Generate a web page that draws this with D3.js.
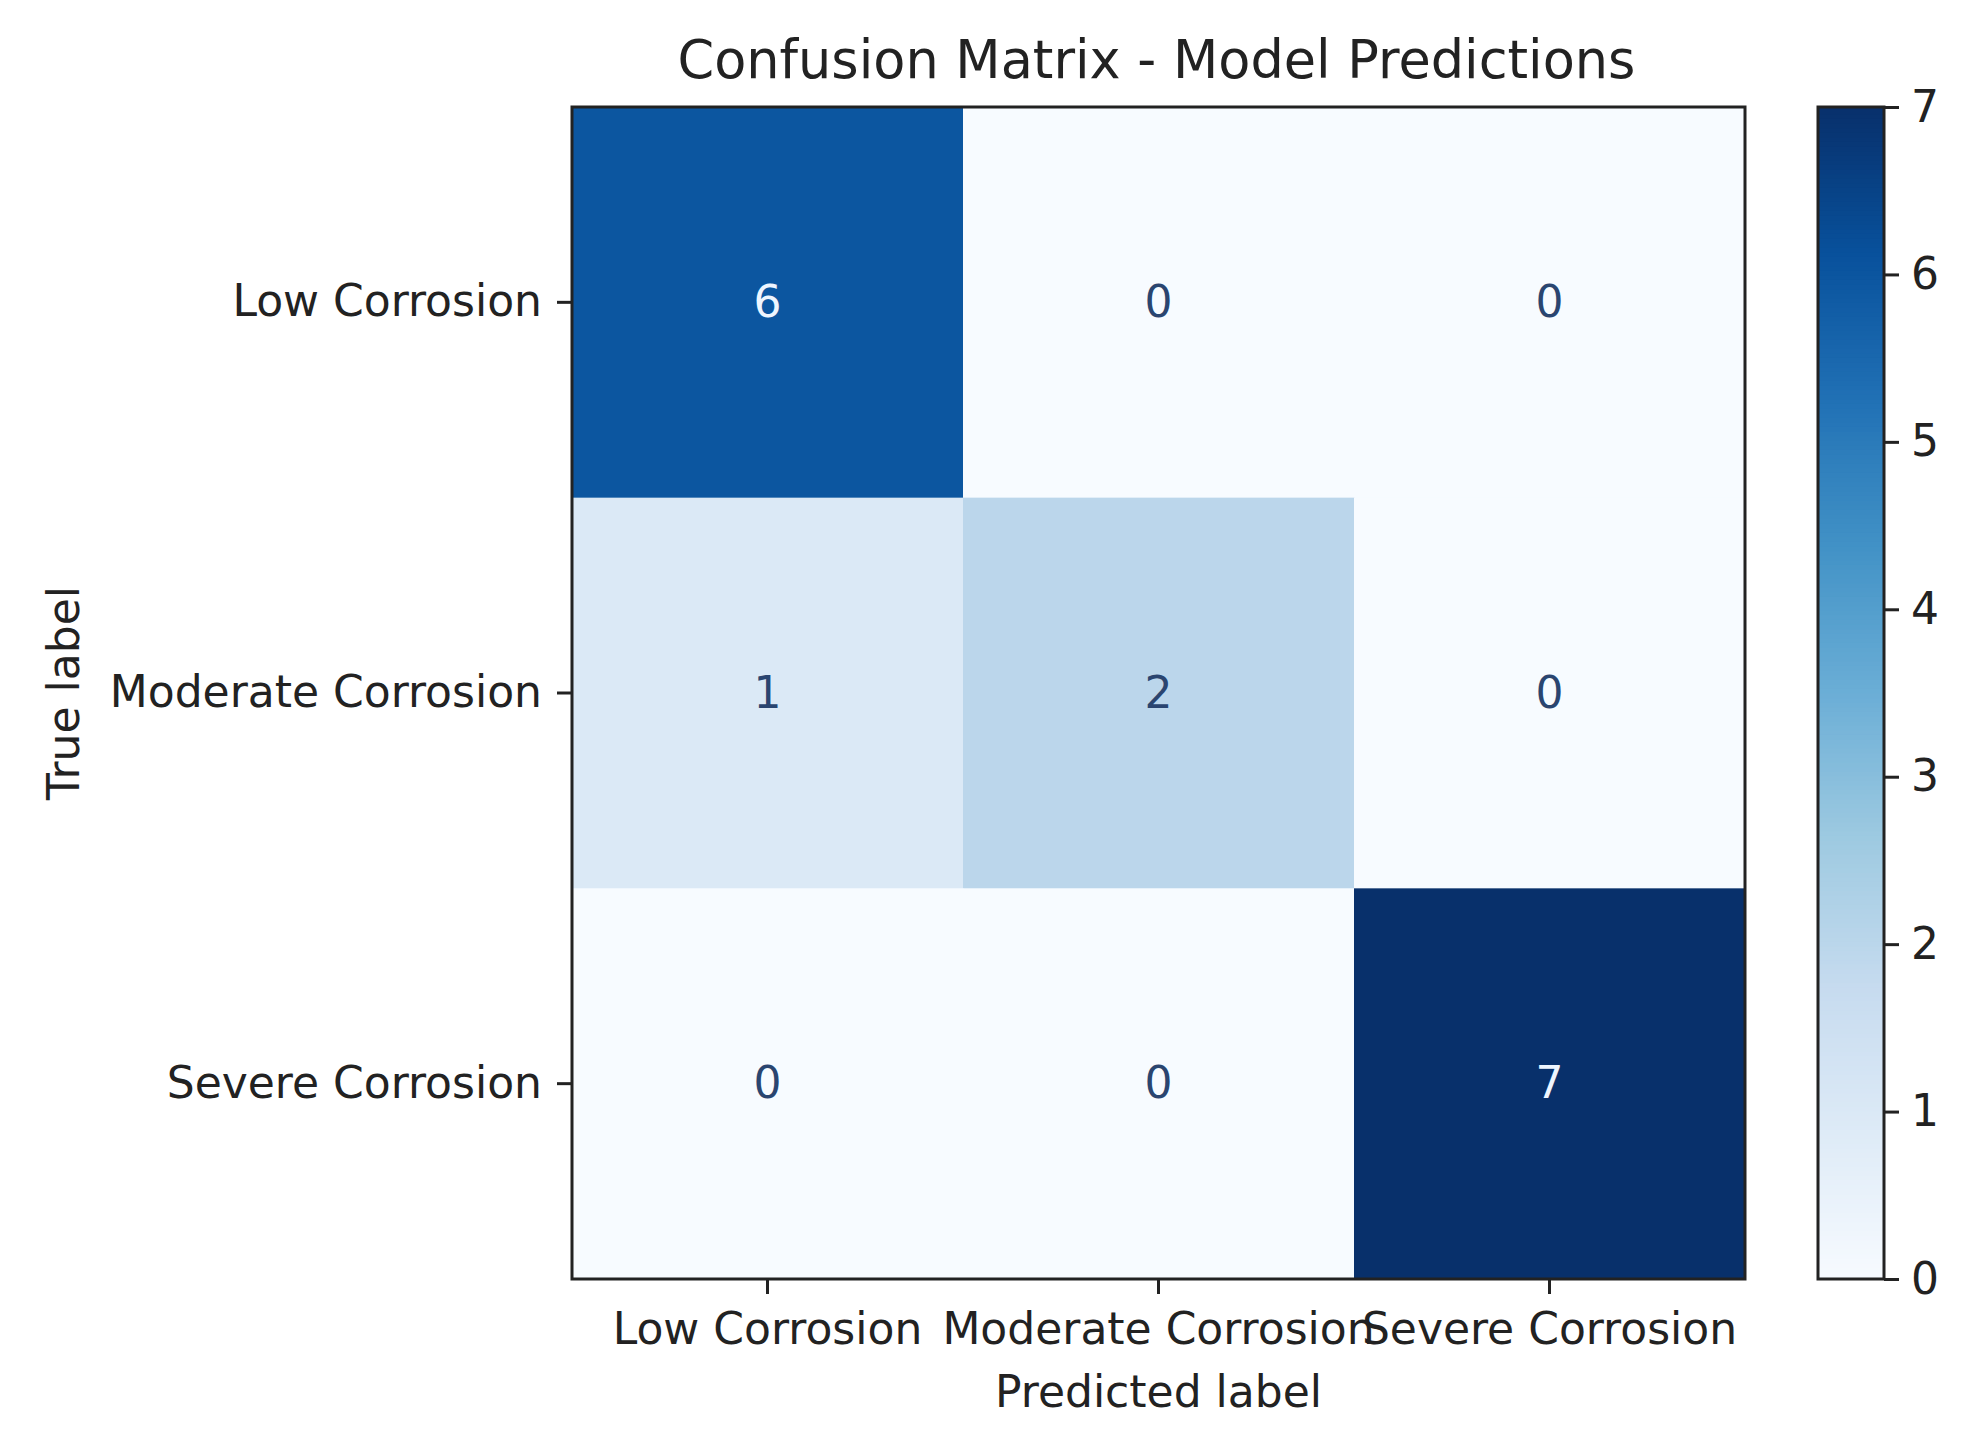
<!DOCTYPE html>
<html>
<head>
<meta charset="utf-8">
<script src="https://cdn.jsdelivr.net/npm/d3@7"></script>
<style>
  html, body { margin: 0; padding: 0; background: #ffffff; }
  svg { display: block; }
  text { font-family: "DejaVu Sans", sans-serif; }
</style>
</head>
<body>
<svg id="chart" width="1975" height="1451"></svg>
<script>
// ---- data ----
const classes = ["Low Corrosion", "Moderate Corrosion", "Severe Corrosion"];
const trueRowLow = [6, 0, 0];
const trueRowModerate = [1, 2, 0];
const trueRowSevere = [0, 0, 7];
const colorbarTicks = [0, 1, 2, 3, 4, 5, 6, 7];
const titleText = "Confusion Matrix - Model Predictions";
const xLabelText = "Predicted label";
const yLabelText = "True label";
const bluesStops = ["#f7fbff", "#deebf7", "#c6dbef", "#9ecae1", "#6baed6", "#4292c6", "#2171b5", "#08519c", "#08306b"];

const matrix = [trueRowLow, trueRowModerate, trueRowSevere];
const cells = [];
matrix.forEach((row, i) => row.forEach((v, j) => cells.push({ t: classes[i], p: classes[j], v })));

// ---- layout ----
const svg = d3.select("#chart");
const fs = 44;
const plot = { left: 572, top: 107, right: 1745, bottom: 1279 };
const cbar = { left: 1818, right: 1884, top: 107, bottom: 1279 };

const vmin = 0, vmax = 7;
const color = d3.scaleLinear()
  .domain(bluesStops.map((_, k) => vmin + (vmax - vmin) * k / (bluesStops.length - 1)))
  .range(bluesStops)
  .interpolate(d3.interpolateRgb);

const x = d3.scaleBand().domain(classes).range([plot.left, plot.right]);
const y = d3.scaleBand().domain(classes).range([plot.top, plot.bottom]);

// cells
svg.append("g").selectAll("rect").data(cells).join("rect")
  .attr("x", d => x(d.p))
  .attr("y", d => y(d.t))
  .attr("width", x.bandwidth() + 0.5)
  .attr("height", y.bandwidth() + 0.5)
  .attr("fill", d => color(d.v));

const thresh = (vmax + vmin) / 2;
svg.append("g").selectAll("text").data(cells).join("text")
  .attr("x", d => x(d.p) + x.bandwidth() / 2)
  .attr("y", d => y(d.t) + y.bandwidth() / 2)
  .attr("text-anchor", "middle")
  .attr("dy", "0.33em")
  .attr("font-size", fs)
  .attr("fill", d => d.v < thresh ? "#2a4570" : "#eef5ff")
  .text(d => d.v);

// frame
svg.append("rect")
  .attr("x", plot.left).attr("y", plot.top)
  .attr("width", plot.right - plot.left).attr("height", plot.bottom - plot.top)
  .attr("fill", "none").attr("stroke", "#222").attr("stroke-width", 3);

// x axis
const xAxis = d3.axisBottom(x).tickSize(15).tickPadding(19);
const gx = svg.append("g").attr("transform", `translate(0,${plot.bottom})`).call(xAxis);
gx.select(".domain").remove();
gx.selectAll(".tick line").attr("stroke", "#222").attr("stroke-width", 3);
gx.selectAll(".tick text").attr("font-size", fs).attr("fill", "#222")
  .attr("font-family", "DejaVu Sans, sans-serif");

// y axis
const yAxis = d3.axisLeft(y).tickSize(15).tickPadding(15);
const gy = svg.append("g").attr("transform", `translate(${plot.left},0)`).call(yAxis);
gy.select(".domain").remove();
gy.selectAll(".tick line").attr("stroke", "#222").attr("stroke-width", 3);
gy.selectAll(".tick text").attr("font-size", fs).attr("fill", "#222")
  .attr("font-family", "DejaVu Sans, sans-serif");

// title and labels
svg.append("text")
  .attr("x", (plot.left + plot.right) / 2 - 2).attr("y", 78)
  .attr("text-anchor", "middle").attr("font-size", 52.5).attr("fill", "#222")
  .text(titleText);

svg.append("text")
  .attr("x", (plot.left + plot.right) / 2).attr("y", 1407)
  .attr("text-anchor", "middle").attr("font-size", fs).attr("fill", "#222")
  .text(xLabelText);

svg.append("text")
  .attr("transform", `translate(79,${(plot.top + plot.bottom) / 2}) rotate(-90)`)
  .attr("text-anchor", "middle").attr("font-size", fs).attr("fill", "#222")
  .text(yLabelText);

// colorbar
const cy = d3.scaleLinear().domain([vmin, vmax]).range([cbar.bottom, cbar.top]);
const steps = d3.range(0, 256).map(k => vmin + (vmax - vmin) * k / 255);
const stepH = (cbar.bottom - cbar.top) / 255;
svg.append("g").selectAll("rect").data(steps).join("rect")
  .attr("x", cbar.left)
  .attr("width", cbar.right - cbar.left)
  .attr("y", d => cy(d) - stepH / 2 - 0.5)
  .attr("height", stepH + 1)
  .attr("fill", d => color(d));
svg.append("rect")
  .attr("x", cbar.left - 2).attr("y", cbar.top - 3)
  .attr("width", cbar.right - cbar.left + 4).attr("height", 3).attr("fill", "#fff");
svg.append("rect")
  .attr("x", cbar.left - 2).attr("y", cbar.bottom)
  .attr("width", cbar.right - cbar.left + 4).attr("height", 3).attr("fill", "#fff");
svg.append("rect")
  .attr("x", cbar.left).attr("y", cbar.top)
  .attr("width", cbar.right - cbar.left).attr("height", cbar.bottom - cbar.top)
  .attr("fill", "none").attr("stroke", "#222").attr("stroke-width", 3);

const cAxis = d3.axisRight(cy).tickValues(colorbarTicks).tickFormat(d3.format("d")).tickSize(15).tickPadding(12);
const gc = svg.append("g").attr("transform", `translate(${cbar.right},0)`).call(cAxis);
gc.select(".domain").remove();
gc.selectAll(".tick line").attr("stroke", "#222").attr("stroke-width", 3);
gc.selectAll(".tick text").attr("font-size", fs).attr("fill", "#222")
  .attr("font-family", "DejaVu Sans, sans-serif");
</script>
</body>
</html>
